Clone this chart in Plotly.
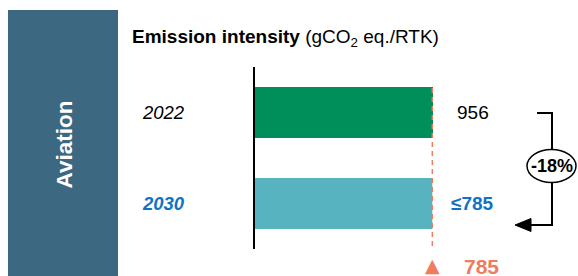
import plotly.graph_objects as go

# ---- data ----
sector = "Aviation"
years = ["2022", "2030"]
intensity = [956, 785]
value_labels = ["956", "≤785"]
target = 785
target_label = "785"
change_label = "-18%"
title_bold = "Emission intensity"
title_unit = " (gCO<sub>2</sub> eq./RTK)"

W, H = 578, 276
ML, MR, MT, MB = 255, 145, 67, 27
PW, PH = W - ML - MR, H - MT - MB


def px(x):
    return (x - ML) / PW


def py(y):
    return (H - MB - y) / PH


FONT = "Arial, 'Liberation Sans', sans-serif"
BAR_COLORS = ["#008f5b", "#57b3bf"]
BLUE = "#1172c2"
SALMON = "#f27b5c"

fig = go.Figure()
fig.add_trace(go.Bar(
    y=years, x=intensity, orientation="h",
    marker=dict(color=BAR_COLORS, line=dict(width=0)),
    hoverinfo="skip", showlegend=False,
))

shapes = []
# left sector panel
shapes.append(dict(type="rect", xref="paper", yref="paper",
                   x0=px(8), x1=px(118), y0=py(10), y1=py(276),
                   fillcolor="#3c6882", line=dict(width=0), layer="below"))
# target dashed line
shapes.append(dict(type="line", xref="x", yref="paper",
                   x0=target, x1=target, y0=py(88), y1=py(247),
                   line=dict(color=SALMON, width=1.5, dash="5px,4px"), layer="above"))
# bracket
BK = dict(color="black", width=2)
shapes.append(dict(type="path", xref="paper", yref="paper",
                   path=f"M {px(537)} {py(113)} L {px(552)} {py(113)} L {px(552)} {py(150)}",
                   line=BK))
shapes.append(dict(type="path", xref="paper", yref="paper",
                   path=f"M {px(552)} {py(182)} L {px(552)} {py(225)} L {px(528)} {py(225)}",
                   line=BK))
shapes.append(dict(type="path", xref="paper", yref="paper",
                   path=f"M {px(515)} {py(225)} L {px(531)} {py(218.5)} L {px(531)} {py(231.5)} Z",
                   fillcolor="black", line=dict(color="black", width=1)))
shapes.append(dict(type="circle", xref="paper", yref="paper",
                   x0=px(527), x1=px(576), y0=py(149.5), y1=py(182.5),
                   fillcolor="white", line=dict(color="black", width=1.5)))

C = dict(xanchor="center", yanchor="middle", showarrow=False)
ann = []
ann.append(dict(text=f"<b>{sector}</b>", x=px(63.5), y=py(145), xref="paper", yref="paper",
                textangle=-90, font=dict(family=FONT, size=22.5, color="white"), **C))
ann.append(dict(text=f"<b>{title_bold}</b>{title_unit}", x=px(130), y=py(38), xref="paper", yref="paper",
                xanchor="left", yanchor="middle", showarrow=False,
                font=dict(family=FONT, size=19, color="black")))
year_styles = [("<i>{}</i>", "black"), ("<b><i>{}</i></b>", BLUE)]
val_styles = [("{}", "black"), ("<b>{}</b>", BLUE)]
for i, yr in enumerate(years):
    # annotations on a category axis use the category's serial index
    ann.append(dict(text=year_styles[i][0].format(yr), x=px(163), y=i, xref="paper", yref="y",
                    font=dict(family=FONT, size=18.5, color=year_styles[i][1]), **C))
    ann.append(dict(text=val_styles[i][0].format(value_labels[i]), x=px(472.5), y=i, xref="paper", yref="y",
                    font=dict(family=FONT, size=19, color=val_styles[i][1]), **C))
# target marker (triangle glyph anchored at the target value) and its label
ann.append(dict(text="▲", x=target, y=py(265), xref="x", yref="paper",
                font=dict(family="DejaVu Sans", size=19, color=SALMON), **C))
ann.append(dict(text=f"<b>{target_label}</b>", x=px(481.5), y=py(266), xref="paper", yref="paper",
                font=dict(family=FONT, size=21, color=SALMON), **C))
ann.append(dict(text=f"<b>{change_label}</b>", x=px(551.5), y=py(166), xref="paper", yref="paper",
                font=dict(family=FONT, size=18, color="black"), **C))

fig.update_layout(
    width=W, height=H,
    margin=dict(l=ML, r=MR, t=MT, b=MB, pad=0),
    paper_bgcolor="white", plot_bgcolor="white",
    bargap=0.44,
    xaxis=dict(range=[0, 788], visible=False, fixedrange=True),
    yaxis=dict(type="category", categoryorder="array", categoryarray=years,
               range=[len(years) - 0.5, -0.5], showline=True, linecolor="black",
               linewidth=2, showticklabels=False, showgrid=False, zeroline=False,
               ticks="", fixedrange=True),
    shapes=shapes, annotations=ann,
    font=dict(family=FONT),
)

fig.write_html("out.html", config={"displayModeBar": False},
               post_script="document.body.style.margin='0';")
